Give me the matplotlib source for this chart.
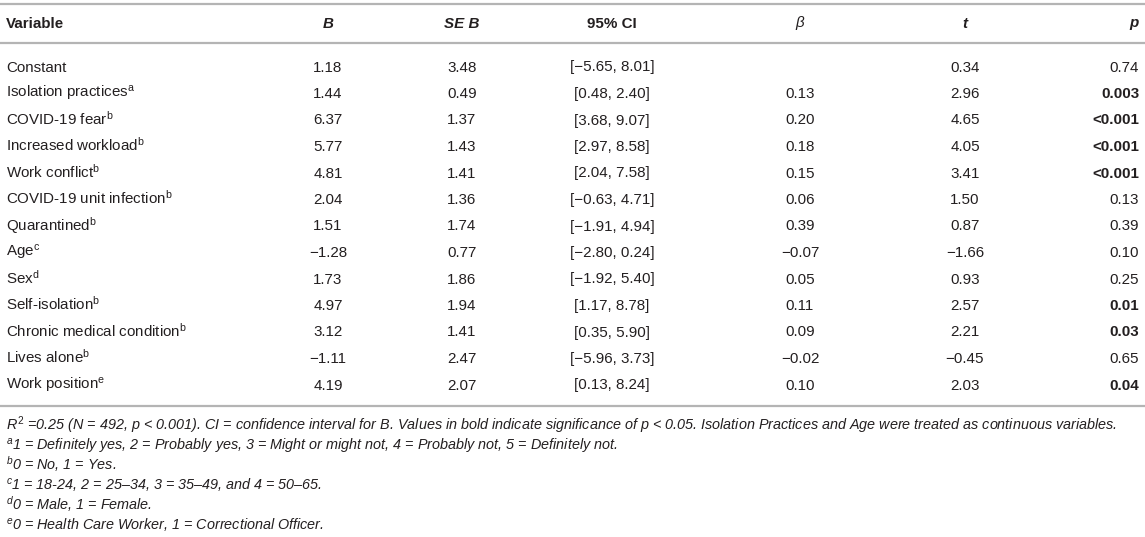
import matplotlib
matplotlib.use("Agg")
import matplotlib.pyplot as plt

plt.rcParams['font.family'] = ['Liberation Sans', 'DejaVu Sans']
plt.rcParams['mathtext.fontset'] = 'custom'
plt.rcParams['mathtext.rm'] = 'Liberation Sans'
plt.rcParams['mathtext.it'] = 'Liberation Sans:italic'
plt.rcParams['mathtext.bf'] = 'Liberation Sans:bold'

# table data
variables = ['Constant', 'Isolation practices', 'COVID-19 fear', 'Increased workload',
             'Work conflict', 'COVID-19 unit infection', 'Quarantined', 'Age', 'Sex',
             'Self-isolation', 'Chronic medical condition', 'Lives alone', 'Work position']
marks = ['', 'a', 'b', 'b', 'b', 'b', 'b', 'c', 'd', 'b', 'b', 'b', 'e']
B = [1.18, 1.44, 6.37, 5.77, 4.81, 2.04, 1.51, -1.28, 1.73, 4.97, 3.12, -1.11, 4.19]
se_B = [3.48, 0.49, 1.37, 1.43, 1.41, 1.36, 1.74, 0.77, 1.86, 1.94, 1.41, 2.47, 2.07]
ci_low = [-5.65, 0.48, 3.68, 2.97, 2.04, -0.63, -1.91, -2.80, -1.92, 1.17, 0.35, -5.96, 0.13]
ci_high = [8.01, 2.40, 9.07, 8.58, 7.58, 4.71, 4.94, 0.24, 5.40, 8.78, 5.90, 3.73, 8.24]
beta = [None, 0.13, 0.20, 0.18, 0.15, 0.06, 0.39, -0.07, 0.05, 0.11, 0.09, -0.02, 0.10]
t_vals = [0.34, 2.96, 4.65, 4.05, 3.41, 1.50, 0.87, -1.66, 0.93, 2.57, 2.21, -0.45, 2.03]
p_vals = ['0.74', '0.003', '<0.001', '<0.001', '<0.001', '0.13', '0.39', '0.10', '0.25',
          '0.01', '0.03', '0.65', '0.04']
p_bold = [False, True, True, True, True, False, False, False, False, True, True, False, True]

footnotes = [
    r'$R^{2}$ =0.25 (N = 492, p < 0.001). CI = confidence interval for B. Values in bold indicate '
    r'significance of p < 0.05. Isolation Practices and Age were treated as continuous variables.',
    r'$^{a}$1 = Definitely yes, 2 = Probably yes, 3 = Might or might not, 4 = Probably not, 5 = Definitely not.',
    r'$^{b}$0 = No, 1 = Yes.',
    r'$^{c}$1 = 18-24, 2 = 25–34, 3 = 35–49, and 4 = 50–65.',
    r'$^{d}$0 = Male, 1 = Female.',
    r'$^{e}$0 = Health Care Worker, 1 = Correctional Officer.',
]


def num(v):
    s = f'{v:.2f}'
    return s.replace('-', '\u2212')


W, H = 1145, 537
fig = plt.figure(figsize=(W / 100, H / 100), dpi=100)
ax = fig.add_axes([0, 0, 1, 1])
ax.set_xlim(0, W)
ax.set_ylim(H, 0)
ax.axis('off')

txt = '#231f20'
line_c = '#b4b4b4'
fs = 10.9

# rules
for y in (4, 43, 405.5):
    ax.plot([0, W], [y, y], color=line_c, lw=1.6, solid_capstyle='butt')

# header
hy = 27.5
col_x = {'B': 328, 'SE': 462, 'CI': 612, 'beta': 800, 't': 965, 'p': 1139}
kw = dict(fontsize=fs, color=txt, va='baseline')
ax.text(6, hy, 'Variable', fontweight='bold', **kw)
ax.text(col_x['B'], hy, 'B', fontweight='bold', style='italic', ha='center', **kw)
ax.text(col_x['SE'], hy, 'SE B', fontweight='bold', style='italic', ha='center', **kw)
ax.text(col_x['CI'], hy, '95% CI', fontweight='bold', ha='center', **kw)
ax.text(col_x['beta'], hy, '\u03b2', style='italic', ha='center', **kw)
ax.text(col_x['t'], hy, 't', fontweight='bold', style='italic', ha='center', **kw)
ax.text(col_x['p'], hy, 'p', fontweight='bold', style='italic', ha='right', **kw)

# body rows
y0, dy = 71.5, 26.5
for i, name in enumerate(variables):
    y = y0 + i * dy
    label = name if not marks[i] else name + r'$^{\mathrm{' + marks[i] + '}}$'
    ax.text(6, y, label, **kw)
    ax.text(col_x['B'], y, num(B[i]), ha='center', **kw)
    ax.text(col_x['SE'], y, num(se_B[i]), ha='center', **kw)
    ax.text(col_x['CI'], y, f'[{num(ci_low[i])}, {num(ci_high[i])}]', ha='center', **kw)
    if beta[i] is not None:
        ax.text(col_x['beta'], y, num(beta[i]), ha='center', **kw)
    ax.text(col_x['t'], y, num(t_vals[i]), ha='center', **kw)
    ax.text(col_x['p'], y, p_vals[i], ha='right',
            fontweight='bold' if p_bold[i] else 'normal', **kw)

# footnotes
fy0, fdy = 430.5, 19.8
for i, note in enumerate(footnotes):
    ax.text(6, fy0 + i * fdy, note, fontsize=10.4, style='italic', color=txt, va='baseline')

fig.savefig('out.png', dpi=100)
